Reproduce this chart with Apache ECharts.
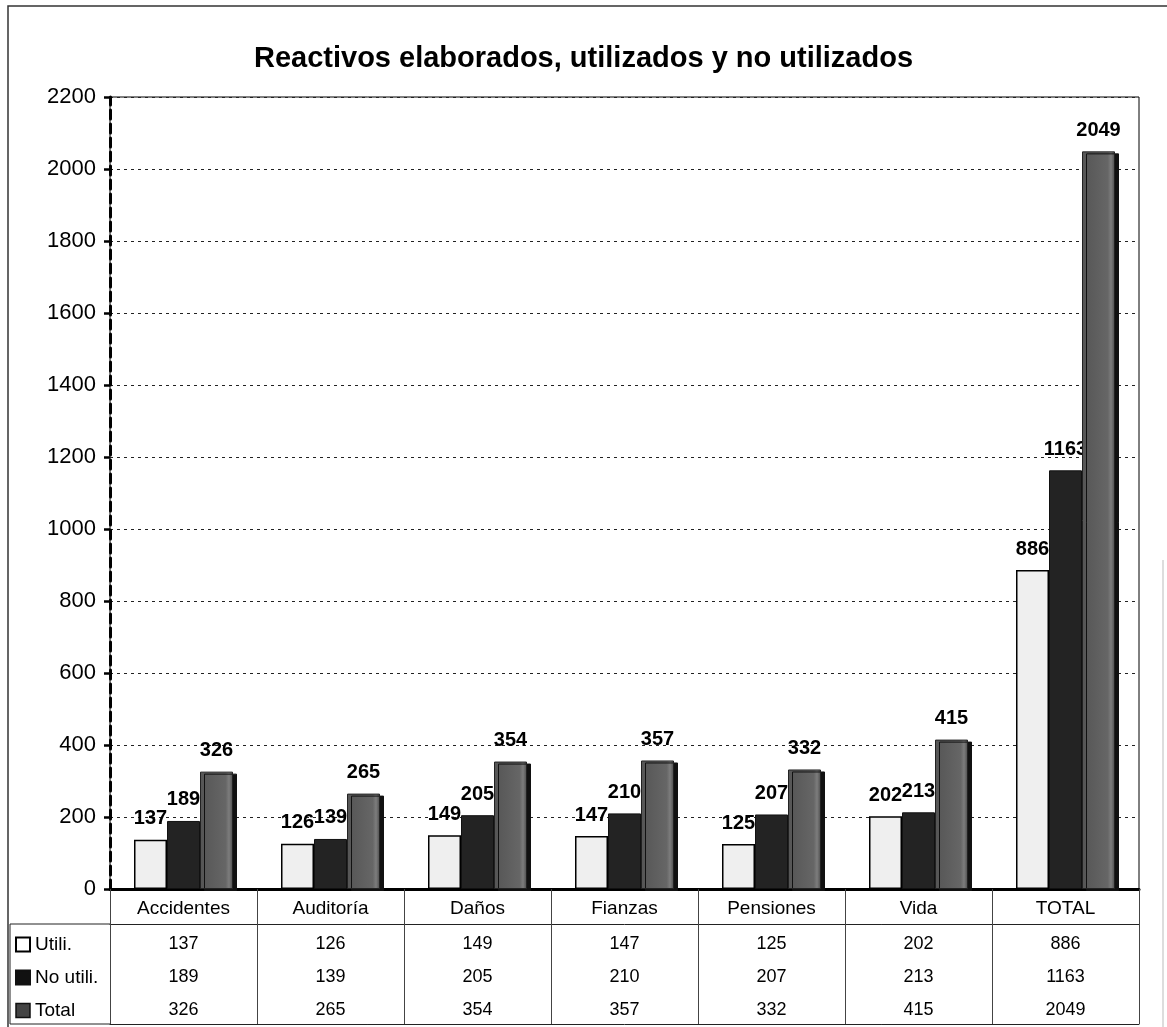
<!DOCTYPE html>
<html>
<head>
<meta charset="utf-8">
<script src="https://cdn.jsdelivr.net/npm/echarts@6/dist/echarts.min.js"></script>
<style>
  html, body { margin: 0; padding: 0; background: #fff; }
  #chart { width: 1167px; height: 1027px; }
</style>
</head>
<body>
<div id="chart"></div>
<script>
// Categories and the three series shown both as bars and in the data table
const categories = ['Accidentes', 'Auditoría', 'Daños', 'Fianzas', 'Pensiones', 'Vida', 'TOTAL'];
const utili   = [137, 126, 149, 147, 125, 202, 886];
const noUtili = [189, 139, 205, 210, 207, 213, 1163];
const total   = [326, 265, 354, 357, 332, 415, 2049];
const seriesNames = ['Utili.', 'No utili.', 'Total'];
const yTicks = [0, 200, 400, 600, 800, 1000, 1200, 1400, 1600, 1800, 2000, 2200];

const FONT = "'Liberation Sans', Arial, sans-serif";

const styles = {
  utili:   { color: '#efefef', borderColor: '#000', borderWidth: 1.5 },
  noUtili: { color: '#232323', borderColor: '#111', borderWidth: 1 },
  total:   {
    color: {
      type: 'linear', x: 0, y: 0, x2: 1, y2: 0,
      colorStops: [
        { offset: 0, color: '#555' },
        { offset: 0.78, color: '#666' },
        { offset: 0.88, color: '#7d7d7d' },
        { offset: 1, color: '#4a4a4a' }
      ]
    },
    borderColor: '#222', borderWidth: 1,
    shadowColor: '#111', shadowBlur: 0, shadowOffsetX: 4, shadowOffsetY: 2
  }
};

const barLabel = {
  show: true, position: 'top', distance: 11,
  fontFamily: FONT, fontSize: 20, fontWeight: 'bold', color: '#000'
};

// One extra bottom axis per table row: it only prints the values under each category
function tableRow(values, offset, lineShown) {
  return {
    type: 'category', data: categories, position: 'bottom', offset: offset,
    axisLine: { show: lineShown, lineStyle: { color: '#222', width: 1 } },
    axisTick: { show: false },
    splitLine: { show: false },
    axisLabel: {
      show: values !== null, interval: 0, margin: 11,
      fontFamily: FONT, fontSize: 18, color: '#000',
      formatter: (v, i) => values ? String(values[i]) : ''
    }
  };
}

const chart = echarts.init(document.getElementById('chart'));
chart.setOption({
  animation: false,
  backgroundColor: '#fff',
  title: {
    text: 'Reactivos elaborados, utilizados y no utilizados',
    left: 'center', top: 39,
    textStyle: { fontFamily: FONT, fontSize: 29, fontWeight: 'bold', color: '#000' }
  },
  legend: {
    orient: 'vertical', left: 15, top: 935, padding: 0,
    itemWidth: 14, itemHeight: 14, itemGap: 14,
    icon: 'rect', selectedMode: false,
    textStyle: { fontFamily: FONT, fontSize: 19, color: '#000' },
    data: [
      { name: seriesNames[0], itemStyle: { color: '#fff', borderColor: '#000', borderWidth: 2 } },
      { name: seriesNames[1], itemStyle: { color: '#111' } },
      { name: seriesNames[2], itemStyle: { color: '#444', borderColor: '#111', borderWidth: 1.5 } }
    ]
  },
  grid: {
    left: 110, right: 28, top: 97, bottom: 138,
    show: true, borderColor: '#000', borderWidth: 1, backgroundColor: 'transparent'
  },
  xAxis: [
    {
      type: 'category', data: categories, position: 'bottom',
      axisLine: { show: true, lineStyle: { color: '#000', width: 3 } },
      axisTick: { show: true, interval: 0, length: 135, lineStyle: { color: '#444', width: 1 } },
      splitLine: { show: false },
      axisLabel: { interval: 0, margin: 10, fontFamily: FONT, fontSize: 19, color: '#000' }
    },
    tableRow(utili, 35, true),
    tableRow(noUtili, 68, false),
    tableRow(total, 101, false),
    tableRow(null, 135, true)
  ],
  yAxis: {
    type: 'value',
    min: yTicks[0], max: yTicks[yTicks.length - 1], interval: yTicks[1] - yTicks[0],
    axisLine: { show: true, lineStyle: { color: '#000', width: 3, type: [9, 5] } },
    axisTick: { show: true, length: 6, lineStyle: { color: '#000', width: 2.5 } },
    axisLabel: {
      margin: 14, fontFamily: FONT, fontSize: 22, color: '#000',
      formatter: v => String(v)
    },
    splitLine: { show: true, lineStyle: { color: '#222', width: 1, type: [3, 4] } }
  },
  series: [
    {
      name: seriesNames[0], type: 'bar', data: utili, barWidth: 33, barGap: '0%',
      itemStyle: styles.utili, label: barLabel, z: 2
    },
    {
      name: seriesNames[1], type: 'bar', data: noUtili, barWidth: 33, barGap: '0%',
      itemStyle: styles.noUtili, label: barLabel, z: 2
    },
    {
      name: seriesNames[2], type: 'bar', data: total, barWidth: 33, barGap: '0%',
      itemStyle: styles.total, label: barLabel, z: 3
    }
  ],
  graphic: [
    // outer frame of the chart
    { type: 'polyline', silent: true, shape: { points: [[8, 1030], [8, 6], [1167, 6]] },
      style: { stroke: '#333', lineWidth: 1.5, fill: null } },
    { type: 'line', silent: true, shape: { x1: 1163, y1: 560, x2: 1163, y2: 1030 },
      style: { stroke: '#bbb', lineWidth: 1 } },
    // legend column of the data table
    { type: 'polyline', silent: true, shape: { points: [[110, 924], [10, 924], [10, 1024], [110, 1024]] },
      style: { stroke: '#222', lineWidth: 1, fill: null } }
  ]
});
</script>
</body>
</html>
